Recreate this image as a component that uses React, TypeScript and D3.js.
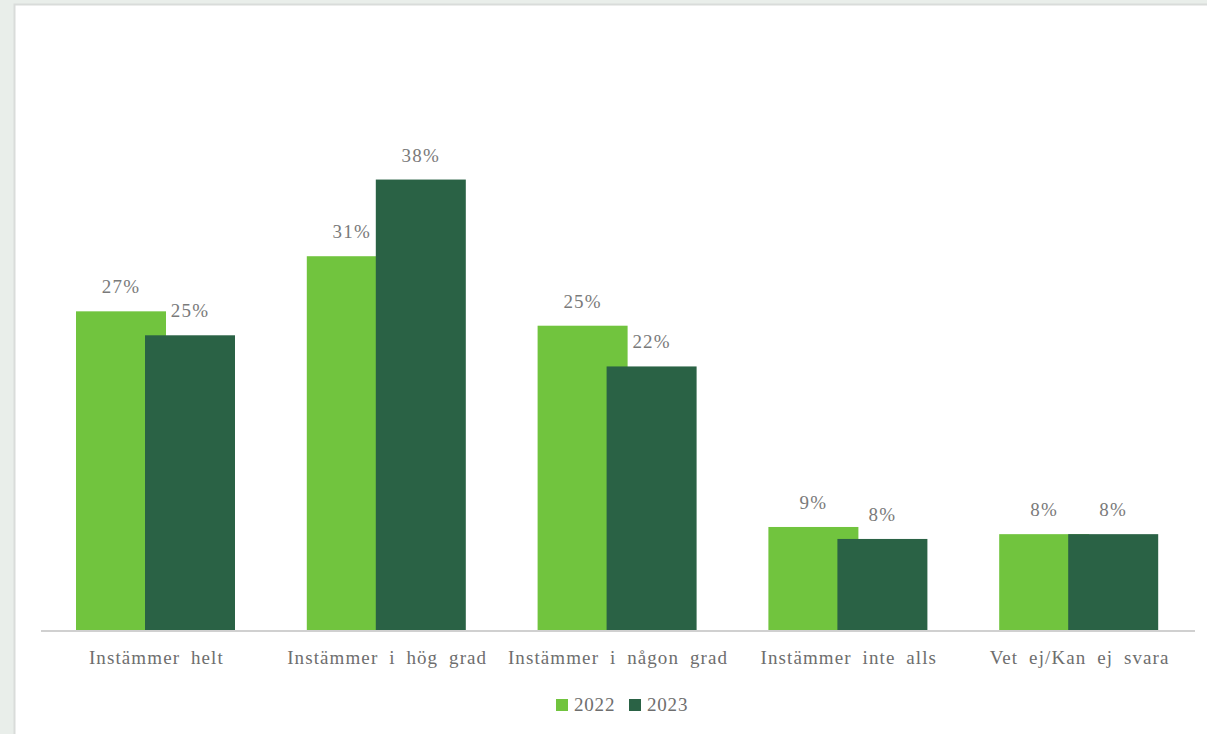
import React from "react";
import * as d3 from "d3";

const categories = [
  "Instämmer helt",
  "Instämmer i hög grad",
  "Instämmer i någon grad",
  "Instämmer inte alls",
  "Vet ej/Kan ej svara",
];
const series = ["2022", "2023"];
const values2022 = [26.6, 31.2, 25.4, 8.6, 8.0];
const values2023 = [24.6, 37.6, 22.0, 7.6, 8.0];
const labels2022 = ["27%", "31%", "25%", "9%", "8%"];
const labels2023 = ["25%", "38%", "22%", "8%", "8%"];
const colors = ["#71C43E", "#2A6245"];

const W = 1207;
const H = 734;
const plotLeft = 41;
const plotRight = 1195;
const baseY = 630;
const pxPerPct = 11.98;
const FONT = '"Liberation Serif", "Times New Roman", "DejaVu Serif", serif';

export default function App() {
  const x = d3.scaleBand<string>().domain(categories).range([plotLeft, plotRight]).paddingInner(0).paddingOuter(0);
  const y = d3.scaleLinear().domain([0, 40]).range([baseY, baseY - 40 * pxPerPct]);
  const barW = 90;
  const offsets = [35, 104];
  const data = [values2022, values2023];
  const labels = [labels2022, labels2023];
  const ts = { fontFamily: FONT } as React.CSSProperties;

  return (
    <svg width={W} height={H} style={{ position: "absolute", left: 0, top: 0 }}>
      <rect x={0} y={0} width={W} height={H} fill="#E9EEEA" />
      <rect x={14.5} y={4.5} width={W} height={H} fill="#FFFFFF" stroke="#D9DCDA" strokeWidth={2} />
      {series.map((s, si) => (
        <g key={s}>
          {categories.map((c, ci) => {
            const bx = (x(c) as number) + offsets[si];
            const top = y(data[si][ci]);
            return <rect key={c} x={bx} y={top} width={barW} height={baseY - top} fill={colors[si]} />;
          })}
        </g>
      ))}
      {series.map((s, si) => (
        <g key={s + "l"}>
          {categories.map((c, ci) => {
            const bx = (x(c) as number) + offsets[si];
            const top = y(data[si][ci]);
            return (
              <text key={c} x={bx + barW / 2} y={top - 18} textAnchor="middle" fontSize={19} fill="#7A7A7A" letterSpacing={1.2} style={ts}>
                {labels[si][ci]}
              </text>
            );
          })}
        </g>
      ))}
      <line x1={plotLeft} x2={plotRight} y1={baseY + 1} y2={baseY + 1} stroke="#D0D0D0" strokeWidth={2} />
      {categories.map((c) => (
        <text key={c} x={(x(c) as number) + x.bandwidth() / 2} y={664} textAnchor="middle" fontSize={19} fill="#6E6E6E" letterSpacing={1.1} wordSpacing={5} style={ts}>
          {c}
        </text>
      ))}
      {series.map((s, si) => (
        <g key={s + "leg"} transform={`translate(${556 + si * 73},699)`}>
          <rect x={0} y={0} width={12} height={12} fill={colors[si]} />
          <text x={18} y={12} fontSize={19} fill="#6E6E6E" letterSpacing={0.8} style={ts}>
            {s}
          </text>
        </g>
      ))}
    </svg>
  );
}
